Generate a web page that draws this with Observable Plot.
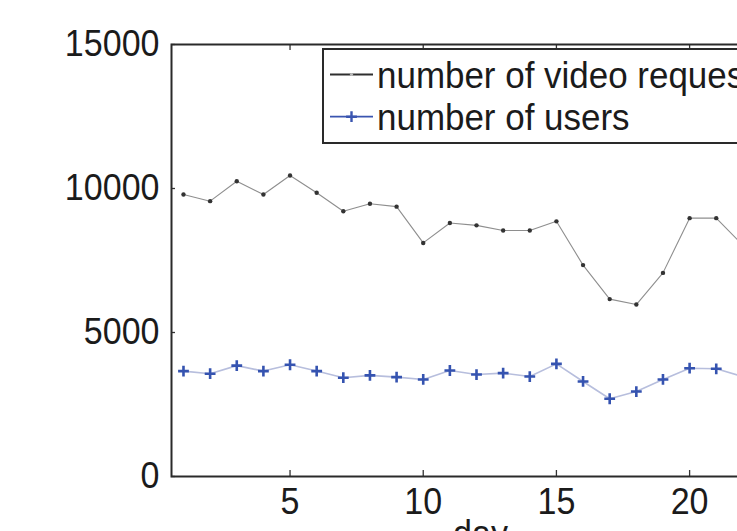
<!DOCTYPE html>
<html>
<head>
<meta charset="utf-8">
<script src="https://cdn.jsdelivr.net/npm/d3@7"></script>
<script src="https://cdn.jsdelivr.net/npm/@observablehq/plot@0.6"></script>
<style>
  html, body { margin: 0; padding: 0; overflow: hidden; background: #fff; }
  #chart { width: 737px; height: 531px; overflow: hidden; position: relative; }
  #chart svg { display: block; max-width: none !important; }
</style>
</head>
<body>
<div id="chart"></div>
<script>
// Daily activity: video requests and distinct users per day
const days = [1, 2, 3, 4, 5, 6, 7, 8, 9, 10, 11, 12, 13, 14, 15, 16, 17, 18, 19, 20, 21, 22];
const videoRequests = [9790, 9560, 10250, 9790, 10450, 9850, 9210, 9470, 9370, 8110, 8800, 8720, 8540, 8540, 8860, 7340, 6160, 5970, 7070, 8970, 8970, 8030];
const users = [3660, 3570, 3850, 3660, 3880, 3660, 3430, 3510, 3450, 3370, 3680, 3540, 3590, 3470, 3910, 3300, 2700, 2950, 3370, 3760, 3740, 3470];
const seriesNames = ["number of video requests", "number of users"];
const xTicks = [5, 10, 15, 20];
const yTicks = [0, 5000, 10000, 15000];
const xLabel = "day";

const font = "'Liberation Sans', Arial, Helvetica, sans-serif";
const fontSize = 37;
const axisSqueeze = 0.92;     // slightly condensed lettering
const legendSqueeze = 0.945;
const textColor = "#1b1b1b";
const requestColor = "#8e8e8e";
const requestDotColor = "#333333";
const userLineColor = "#b7bedd";
const userMarkColor = "#3553b0";
const plusArm = 5.4;

// thin "+" marker whose half-length equals the dot radius
const plusMarker = {
  draw(context, size) {
    const a = Math.sqrt(size / Math.PI);
    context.moveTo(-a, 0);
    context.lineTo(a, 0);
    context.moveTo(0, -a);
    context.lineTo(0, a);
  }
};

const W = 800, H = 560;
const mL = 171, mR = 11, mT = 44, mB = 84;
const plotW = W - mL - mR, plotH = H - mT - mB;

const requestRows = days.map((d, i) => ({day: d, value: videoRequests[i]}));
const userRows = days.map((d, i) => ({day: d, value: users[i]}));

const chart = Plot.plot({
  width: W,
  height: H,
  marginLeft: mL,
  marginRight: mR,
  marginTop: mT,
  marginBottom: mB,
  style: {fontFamily: font, fontSize: `${fontSize}px`, color: textColor, background: "#fff", maxWidth: "none"},
  x: {domain: [0.55, 23.75]},
  y: {domain: [0, 15000]},
  marks: [
    Plot.axisX(xTicks, {tickSize: 0, tickPadding: 11, label: null, tickFormat: d => String(d), fill: textColor}),
    Plot.axisY(yTicks, {tickSize: 0, tickPadding: 12, label: null, tickFormat: d => String(d), fill: textColor}),
    // inward ticks on bottom, top and left edges
    Plot.tickX(xTicks, {x: d => d, insetTop: plotH - 6, stroke: "#333", strokeWidth: 1.3}),
    Plot.tickX(xTicks, {x: d => d, insetBottom: plotH - 6, stroke: "#333", strokeWidth: 1.3}),
    Plot.tickY(yTicks, {y: d => d, insetRight: plotW - 4, stroke: "#333", strokeWidth: 1.3}),
    Plot.text([xLabel], {text: d => d, frameAnchor: "bottom", lineAnchor: "top", dy: 43, fill: textColor}),
    Plot.line(requestRows, {x: "day", y: "value", stroke: requestColor, strokeWidth: 1.1}),
    Plot.dot(requestRows, {x: "day", y: "value", r: 2.2, fill: requestDotColor, stroke: "none"}),
    Plot.line(userRows, {x: "day", y: "value", stroke: userLineColor, strokeWidth: 1.6}),
    Plot.dot(userRows, {x: "day", y: "value", symbol: plusMarker, r: plusArm, stroke: userMarkColor, strokeWidth: 2.6}),
    Plot.frame({stroke: "#2a2a2a", strokeWidth: 2})
  ]
});

document.getElementById("chart").appendChild(chart);

// narrow each label horizontally about its own anchor point (vertical offsets untouched)
function squeeze(el, s) {
  const x = parseFloat(el.getAttribute("x")) || 0;
  el.removeAttribute("x");
  const t = el.getAttribute("transform") || "";
  el.setAttribute("transform", `${t} translate(${x},0) scale(${s},1)`);
}
chart.querySelectorAll("text").forEach(el => squeeze(el, axisSqueeze));

// Legend box in the upper part of the axes
const svg = d3.select(chart);
const lg = svg.append("g")
  .attr("font-family", font).attr("font-size", fontSize)
  .attr("fill", textColor).attr("text-anchor", "start");
lg.append("rect")
  .attr("x", 323).attr("y", 49).attr("width", W).attr("height", 94)
  .attr("fill", "#fff").attr("stroke", "#2a2a2a").attr("stroke-width", 2);

const entries = [
  {name: seriesNames[0], y: 74.5, base: 87.7, line: "#2f2f2f", kind: "dot"},
  {name: seriesNames[1], y: 116.7, base: 130, line: "#3a55b0", kind: "plus"}
];
for (const e of entries) {
  lg.append("line")
    .attr("x1", 330).attr("x2", 373).attr("y1", e.y).attr("y2", e.y)
    .attr("stroke", e.line).attr("stroke-width", 1.8);
  if (e.kind === "dot") {
    lg.append("circle").attr("cx", 351.5).attr("cy", e.y).attr("r", 1.6).attr("fill", "#bbb");
  } else {
    lg.append("path")
      .attr("transform", `translate(351.5,${e.y})`)
      .attr("d", d3.symbol(plusMarker, Math.PI * plusArm * plusArm)())
      .attr("fill", "none").attr("stroke", e.line).attr("stroke-width", 2.4);
  }
  const label = lg.append("text").attr("x", 377).attr("y", e.base).text(e.name);
  squeeze(label.node(), legendSqueeze);
}
</script>
</body>
</html>
